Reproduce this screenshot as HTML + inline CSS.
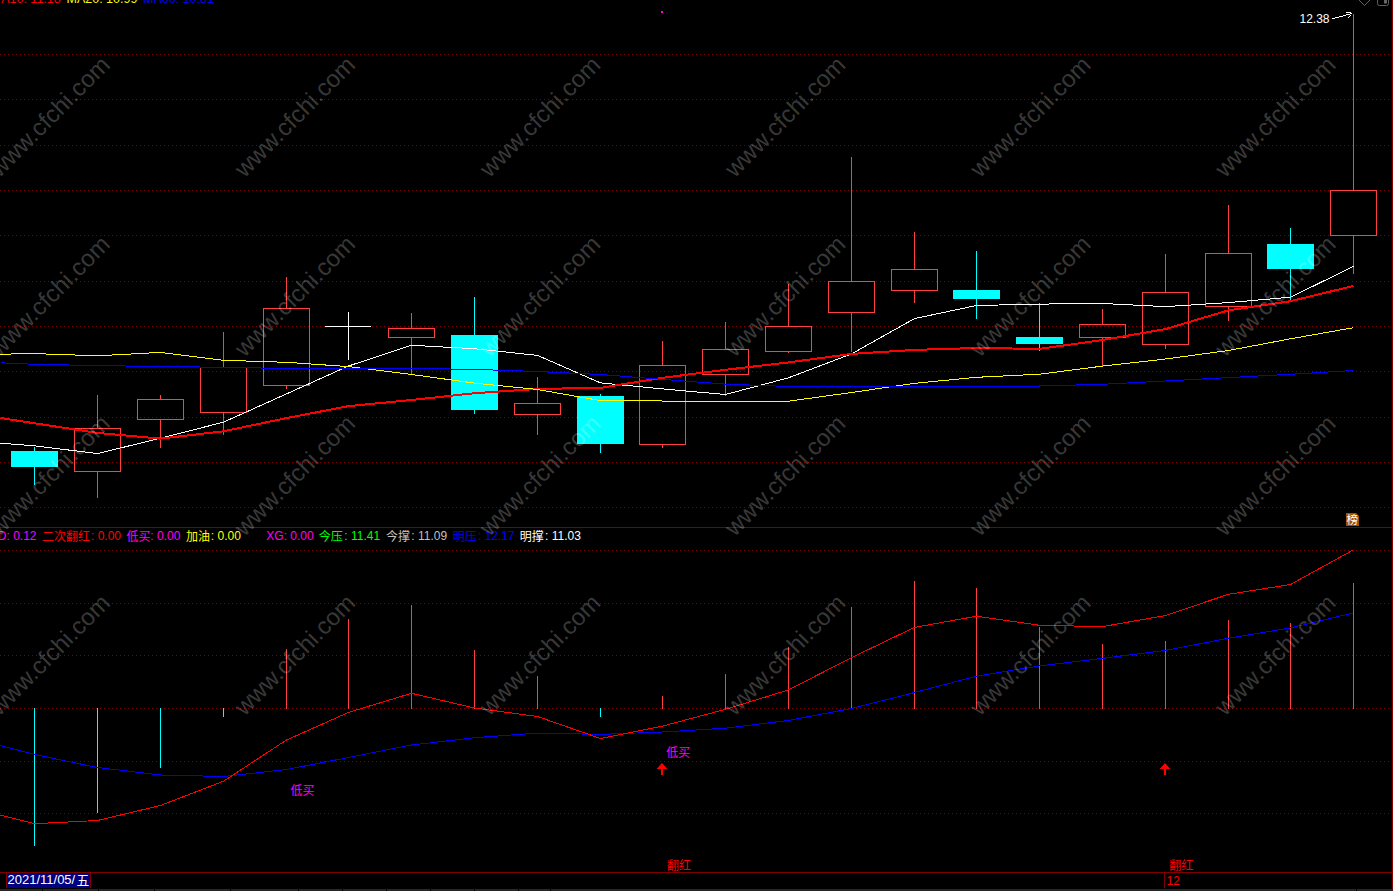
<!DOCTYPE html><html><head><meta charset="utf-8"><style>
html,body{margin:0;padding:0;background:#000;overflow:hidden}
body{width:1393px;height:891px;position:relative;font-family:"Liberation Sans",sans-serif}
svg{position:absolute;left:0;top:0}
.t{position:absolute;white-space:nowrap;font-size:12px;line-height:14px}
</style></head><body>
<svg width="1393" height="891" viewBox="0 0 1393 891">
<rect width="1393" height="891" fill="#000"/>
<g shape-rendering="crispEdges" stroke="#800000" stroke-width="1" stroke-dasharray="1 3">
<line x1="0" y1="54.5" x2="1389" y2="54.5"/>
<line x1="0" y1="99.5" x2="1389" y2="99.5"/>
<line x1="0" y1="145.5" x2="1389" y2="145.5"/>
<line x1="0" y1="190.5" x2="1389" y2="190.5"/>
<line x1="0" y1="235.5" x2="1389" y2="235.5"/>
<line x1="0" y1="281.5" x2="1389" y2="281.5"/>
<line x1="0" y1="326.5" x2="1389" y2="326.5"/>
<line x1="0" y1="371.5" x2="1389" y2="371.5"/>
<line x1="0" y1="417.5" x2="1389" y2="417.5"/>
<line x1="0" y1="462.5" x2="1389" y2="462.5"/>
<line x1="0" y1="507.5" x2="1389" y2="507.5"/>
<line x1="0" y1="550.5" x2="1389" y2="550.5"/>
<line x1="0" y1="603.5" x2="1389" y2="603.5"/>
<line x1="0" y1="655.5" x2="1389" y2="655.5"/>
<line x1="0" y1="708.5" x2="1389" y2="708.5"/>
<line x1="0" y1="761.5" x2="1389" y2="761.5"/>
<line x1="0" y1="813.5" x2="1389" y2="813.5"/>
</g>
<g shape-rendering="crispEdges">
<rect x="0" y="527" width="1393" height="1" fill="#800000"/>
<rect x="0" y="872" width="1393" height="1" fill="#800000"/>
<rect x="1392" y="0" width="1" height="891" fill="#8c0000"/>
<rect x="11" y="451" width="47" height="16" fill="#00ffff"/>
<rect x="34" y="447" width="1" height="38" fill="#00ffff"/>
<rect x="74.5" y="428.5" width="46" height="43" fill="none" stroke="#ff4040"/>
<rect x="97" y="395" width="1" height="33" fill="#ff4040"/>
<rect x="97" y="472" width="1" height="26" fill="#ff4040"/>
<rect x="137.5" y="399.5" width="46" height="20" fill="none" stroke="#ff4040"/>
<rect x="160" y="395" width="1" height="4" fill="#ff4040"/>
<rect x="160" y="420" width="1" height="28" fill="#ff4040"/>
<rect x="200.5" y="367.5" width="46" height="45" fill="none" stroke="#ff4040"/>
<rect x="223" y="332" width="1" height="35" fill="#ff4040"/>
<rect x="223" y="413" width="1" height="22" fill="#ff4040"/>
<rect x="263.5" y="308.5" width="46" height="77" fill="none" stroke="#ff4040"/>
<rect x="286" y="277" width="1" height="31" fill="#ff4040"/>
<rect x="286" y="386" width="1" height="3" fill="#ff4040"/>
<rect x="325" y="326" width="46" height="1" fill="#fff"/>
<rect x="348" y="312" width="1" height="48" fill="#fff"/>
<rect x="388.5" y="328.5" width="46" height="9" fill="none" stroke="#ff4040"/>
<rect x="411" y="313" width="1" height="15" fill="#ff4040"/>
<rect x="411" y="338" width="1" height="36" fill="#ff4040"/>
<rect x="451" y="335" width="47" height="75" fill="#00ffff"/>
<rect x="474" y="297" width="1" height="117" fill="#00ffff"/>
<rect x="514.5" y="403.5" width="46" height="11" fill="none" stroke="#ff4040"/>
<rect x="537" y="377" width="1" height="26" fill="#ff4040"/>
<rect x="537" y="415" width="1" height="20" fill="#ff4040"/>
<rect x="577" y="396" width="47" height="48" fill="#00ffff"/>
<rect x="600" y="394" width="1" height="59" fill="#00ffff"/>
<rect x="639.5" y="365.5" width="46" height="79" fill="none" stroke="#ff4040"/>
<rect x="662" y="341" width="1" height="24" fill="#ff4040"/>
<rect x="662" y="445" width="1" height="3" fill="#ff4040"/>
<rect x="702.5" y="349.5" width="46" height="25" fill="none" stroke="#ff4040"/>
<rect x="725" y="322" width="1" height="27" fill="#ff4040"/>
<rect x="725" y="375" width="1" height="21" fill="#ff4040"/>
<rect x="765.5" y="326.5" width="46" height="25" fill="none" stroke="#ff4040"/>
<rect x="788" y="284" width="1" height="42" fill="#ff4040"/>
<rect x="788" y="352" width="1" height="1" fill="#ff4040"/>
<rect x="828.5" y="281.5" width="46" height="31" fill="none" stroke="#ff4040"/>
<rect x="851" y="157" width="1" height="124" fill="#ff4040"/>
<rect x="851" y="313" width="1" height="39" fill="#ff4040"/>
<rect x="891.5" y="269.5" width="46" height="21" fill="none" stroke="#ff4040"/>
<rect x="914" y="232" width="1" height="37" fill="#ff4040"/>
<rect x="914" y="291" width="1" height="12" fill="#ff4040"/>
<rect x="953" y="290" width="47" height="9" fill="#00ffff"/>
<rect x="976" y="251" width="1" height="68" fill="#00ffff"/>
<rect x="1016" y="337" width="47" height="7" fill="#00ffff"/>
<rect x="1039" y="303" width="1" height="48" fill="#00ffff"/>
<rect x="1079.5" y="324.5" width="46" height="13" fill="none" stroke="#ff4040"/>
<rect x="1102" y="309" width="1" height="15" fill="#ff4040"/>
<rect x="1102" y="338" width="1" height="28" fill="#ff4040"/>
<rect x="1142.5" y="292.5" width="46" height="52" fill="none" stroke="#ff4040"/>
<rect x="1165" y="254" width="1" height="38" fill="#ff4040"/>
<rect x="1165" y="345" width="1" height="4" fill="#ff4040"/>
<rect x="1205.5" y="253.5" width="46" height="53" fill="none" stroke="#ff4040"/>
<rect x="1228" y="205" width="1" height="48" fill="#ff4040"/>
<rect x="1228" y="307" width="1" height="14" fill="#ff4040"/>
<rect x="1267" y="244" width="47" height="25" fill="#00ffff"/>
<rect x="1290" y="228" width="1" height="73" fill="#00ffff"/>
<rect x="1330.5" y="190.5" width="46" height="45" fill="none" stroke="#ff4040"/>
<rect x="1353" y="14" width="1" height="176" fill="#ff4040"/>
<rect x="1353" y="236" width="1" height="38" fill="#ff4040"/>
<rect x="34" y="708" width="1" height="138" fill="#00ffff"/>
<rect x="97" y="708" width="1" height="105" fill="#00ffff"/>
<rect x="160" y="708" width="1" height="60" fill="#00ffff"/>
<rect x="223" y="708" width="1" height="9" fill="#00ffff"/>
<rect x="286" y="649" width="1" height="60" fill="#ff4040"/>
<rect x="348" y="619" width="1" height="90" fill="#ff4040"/>
<rect x="411" y="605" width="1" height="104" fill="#ff4040"/>
<rect x="474" y="650" width="1" height="59" fill="#ff4040"/>
<rect x="537" y="676" width="1" height="33" fill="#ff4040"/>
<rect x="600" y="708" width="1" height="9" fill="#00ffff"/>
<rect x="662" y="696" width="1" height="13" fill="#ff4040"/>
<rect x="725" y="674" width="1" height="35" fill="#ff4040"/>
<rect x="788" y="647" width="1" height="62" fill="#ff4040"/>
<rect x="851" y="607" width="1" height="102" fill="#ff4040"/>
<rect x="914" y="581" width="1" height="128" fill="#ff4040"/>
<rect x="976" y="588" width="1" height="121" fill="#ff4040"/>
<rect x="1039" y="627" width="1" height="82" fill="#ff4040"/>
<rect x="1102" y="644" width="1" height="65" fill="#ff4040"/>
<rect x="1165" y="641" width="1" height="68" fill="#ff4040"/>
<rect x="1228" y="620" width="1" height="89" fill="#ff4040"/>
<rect x="1290" y="623" width="1" height="86" fill="#ff4040"/>
<rect x="1353" y="583" width="1" height="126" fill="#ff4040"/>
<polyline points="0.5,443.2 34.5,445.8 97.5,453.6 160.5,438.2 223.5,422.2 286.5,393.9 348.5,366 411.5,345.3 474.5,348.7 537.5,355.4 600.5,382.9 662.5,388.9 725.5,394.5 788.5,377.8 851.5,353.9 914.5,318.6 976.5,305.5 1039.5,304.1 1102.5,303.5 1165.5,306.6 1228.5,302.6 1290.5,297.2 1353.5,266.4" fill="none" stroke="#ffffff" stroke-width="1" stroke-linejoin="round"/>
<polyline points="0.5,418 34.5,423.3 97.5,432.9 160.5,438.6 223.5,431.3 286.5,418.1 348.5,406.1 411.5,400 474.5,393.2 537.5,388.9 600.5,387.9 662.5,377.8 725.5,369.8 788.5,362.4 851.5,353.9 914.5,349.9 976.5,348 1039.5,348.9 1102.5,340 1165.5,329.1 1228.5,310.3 1290.5,301.2 1353.5,285.9" fill="none" stroke="#ff0000" stroke-width="2" stroke-linejoin="round"/>
<polyline points="0.5,354.2 34.5,353.6 97.5,355.8 160.5,352.4 223.5,360.3 286.5,362.3 348.5,366.6 411.5,374.5 474.5,383.1 537.5,389.5 600.5,400.6 662.5,401 725.5,401.2 788.5,401.2 851.5,392.5 914.5,383.3 976.5,377.3 1039.5,374.2 1102.5,366.1 1165.5,359 1228.5,350.5 1290.5,338.8 1353.5,327.7" fill="none" stroke="#ffff00" stroke-width="1" stroke-linejoin="round"/>
<polyline points="0.5,362.8 34.5,364.3 97.5,365.6 160.5,366.5 223.5,367.3 286.5,368.5 348.5,368.5 411.5,368.4 474.5,369.4 537.5,371.5 600.5,374.5 662.5,379.4 725.5,384.1 788.5,386.5 851.5,386.3 914.5,386.1 976.5,386.1 1039.5,386 1102.5,384.3 1165.5,381 1228.5,377.6 1290.5,374.3 1353.5,370.5" fill="none" stroke="#0000ff" stroke-width="1" stroke-linejoin="round"/>
<polyline points="0.5,745.5 34.5,754.5 97.5,767.5 160.5,775 223.5,776.5 286.5,769.5 348.5,757.5 411.5,745 474.5,737.7 537.5,733.1 600.5,734.4 662.5,732 725.5,728.2 788.5,720.4 851.5,708.5 914.5,692.5 976.5,676.2 1039.5,665.9 1102.5,658.4 1165.5,650.4 1228.5,638.2 1290.5,627.9 1353.5,612.9" fill="none" stroke="#0000ff" stroke-width="1" stroke-linejoin="round"/>
<polyline points="0.5,815 34.5,823.7 97.5,820.5 160.5,805.5 223.5,781.2 286.5,740 348.5,712.4 411.5,693.3 474.5,708 537.5,716.5 600.5,738.5 662.5,726.1 725.5,709.3 788.5,689.9 851.5,657.6 914.5,627.4 976.5,616.2 1039.5,625.3 1102.5,626.6 1165.5,615.5 1228.5,594.3 1290.5,584.5 1353.5,549.8" fill="none" stroke="#ff0000" stroke-width="1" stroke-linejoin="round"/>
<rect x="661" y="11" width="2" height="2" fill="#ff00ff"/>
<path d="M662 763 l5.4 6 h-4.4 v6 h-2 v-6 h-4.4z" fill="#ff0000" shape-rendering="geometricPrecision"/>
<path d="M1165 763 l5.4 6 h-4.4 v6 h-2 v-6 h-4.4z" fill="#ff0000" shape-rendering="geometricPrecision"/>
<rect x="1164" y="873" width="1" height="15" fill="#800000"/>
<rect x="6" y="873" width="85" height="15" fill="#000080"/>
<rect x="6" y="873" width="1" height="15" fill="#800000"/><rect x="90" y="873" width="1" height="15" fill="#800000"/>
<rect x="0" y="889" width="1393" height="2" fill="#262626"/>
<rect x="42" y="889" width="1" height="2" fill="#000"/>
<rect x="98" y="889" width="1" height="2" fill="#000"/>
<rect x="154" y="889" width="1" height="2" fill="#000"/>
<rect x="230" y="889" width="1" height="2" fill="#000"/>
<rect x="298" y="889" width="1" height="2" fill="#000"/>
<rect x="342" y="889" width="1" height="2" fill="#000"/>
<rect x="386" y="889" width="1" height="2" fill="#000"/>
<rect x="430" y="889" width="1" height="2" fill="#000"/>
<rect x="474" y="889" width="1" height="2" fill="#000"/>
<rect x="518" y="889" width="1" height="2" fill="#000"/>
<rect x="550" y="889" width="1" height="2" fill="#000"/>
<rect x="1356" y="889" width="1" height="2" fill="#000"/>
</g>
<g fill="none" stroke="#606060" stroke-width="1"><path d="M1358.5 -0.5 L1364.5 5.5 L1370.5 -0.5"/><rect x="1377.5" y="-4.5" width="11" height="10" rx="2"/><rect x="1384" y="-1" width="3" height="4.5" fill="#666" stroke="none"/></g>
<g stroke="#fff" stroke-width="1" fill="none" shape-rendering="crispEdges"><path d="M1332 18.5 h3 M1335 17.5 h4 M1339 16.5 h4 M1343 15.5 h3 M1346 14.5 h4 M1350 13.5h2 M1346 12.5 h5 M1351 13.5 h1 M1350 15.5h1 M1349 16.5h1 M1348 17.5h1"/></g>
<g font-family="'Liberation Sans','Noto Sans CJK SC',sans-serif" font-size="12">
<text x="42.1" y="541" fill="#ff0000">二次翻红</text>
<text x="126.6" y="541" fill="#ff00ff">低买</text>
<text x="186.1" y="541" fill="#ffff00">加油</text>
<text x="318.8" y="541" fill="#00ff00">今压</text>
<text x="386" y="541" fill="#c0c0c0">今撑</text>
<text x="452.7" y="541" fill="#0000ff">明压</text>
<text x="519.7" y="541" fill="#ffffff">明撑</text>
<text x="290.5" y="794.8" fill="#ff00ff">低买</text>
<text x="666.3" y="757" fill="#ff00ff">低买</text>
<text x="667" y="870.3" fill="#ff0000">翻红</text>
<text x="1169.3" y="870.3" fill="#ff0000">翻红</text>
<text x="76.4" y="884.8" fill="#ffffff" font-size="12.8">五</text>
</g>
<path d="M1346 513 h10 l3 3 v10 h-13z" fill="#a05000"/>
<text x="1346.6" y="524.3" fill="#ffffff" font-size="11.5" font-family="'Liberation Sans','Noto Sans CJK SC',sans-serif">榜</text>
</svg>
<div class="t" style="left:1.2px;top:-7.8px;color:#ff0000;font-size:12.5px">A10: 11.18</div>
<div class="t" style="left:66.5px;top:-7.8px;color:#ffff00;font-size:12.5px">MA20: 10.99</div>
<div class="t" style="left:143px;top:-7.8px;color:#0000ff;font-size:12.5px">MA60: 10.81</div>
<div class="t" style="left:1299.5px;top:11.5px;color:#ffffff;">12.38</div>
<div class="t" style="left:-2.2px;top:529px;color:#ff00ff;">D: 0.12</div>
<div class="t" style="left:91px;top:529px;color:#ff0000;">: 0.00</div>
<div class="t" style="left:150.3px;top:529px;color:#ff00ff;">: 0.00</div>
<div class="t" style="left:210.8px;top:529px;color:#ffff00;">: 0.00</div>
<div class="t" style="left:266.3px;top:529px;color:#ff00ff;">XG: 0.00</div>
<div class="t" style="left:344.3px;top:529px;color:#00ff00;">: 11.41</div>
<div class="t" style="left:411.3px;top:529px;color:#c0c0c0;">: 11.09</div>
<div class="t" style="left:478px;top:529px;color:#0000ff;">: 12.17</div>
<div class="t" style="left:545px;top:529px;color:#ffffff;">: 11.03</div>
<div class="t" style="left:7.5px;top:872.6px;color:#ffffff;font-size:13px">2021/11/05/</div>
<div class="t" style="left:1166.5px;top:874px;color:#ff0000;">12</div>
<svg width="1393" height="891" viewBox="0 0 1393 891" style="pointer-events:none">
<g fill="#ffffff" fill-opacity="0.235" font-family="'Liberation Sans',sans-serif" font-size="24">
<text transform="translate(-0.8 178.5) rotate(-45)">www.cfchi.com</text>
<text transform="translate(244.4 178.5) rotate(-45)">www.cfchi.com</text>
<text transform="translate(489.6 178.5) rotate(-45)">www.cfchi.com</text>
<text transform="translate(734.7 178.5) rotate(-45)">www.cfchi.com</text>
<text transform="translate(979.9 178.5) rotate(-45)">www.cfchi.com</text>
<text transform="translate(1225.0 178.5) rotate(-45)">www.cfchi.com</text>
<text transform="translate(-0.8 357.9) rotate(-45)">www.cfchi.com</text>
<text transform="translate(244.4 357.9) rotate(-45)">www.cfchi.com</text>
<text transform="translate(489.6 357.9) rotate(-45)">www.cfchi.com</text>
<text transform="translate(734.7 357.9) rotate(-45)">www.cfchi.com</text>
<text transform="translate(979.9 357.9) rotate(-45)">www.cfchi.com</text>
<text transform="translate(1225.0 357.9) rotate(-45)">www.cfchi.com</text>
<text transform="translate(-0.8 537.3) rotate(-45)">www.cfchi.com</text>
<text transform="translate(244.4 537.3) rotate(-45)">www.cfchi.com</text>
<text transform="translate(489.6 537.3) rotate(-45)">www.cfchi.com</text>
<text transform="translate(734.7 537.3) rotate(-45)">www.cfchi.com</text>
<text transform="translate(979.9 537.3) rotate(-45)">www.cfchi.com</text>
<text transform="translate(1225.0 537.3) rotate(-45)">www.cfchi.com</text>
<text transform="translate(-0.8 716.7) rotate(-45)">www.cfchi.com</text>
<text transform="translate(244.4 716.7) rotate(-45)">www.cfchi.com</text>
<text transform="translate(489.6 716.7) rotate(-45)">www.cfchi.com</text>
<text transform="translate(734.7 716.7) rotate(-45)">www.cfchi.com</text>
<text transform="translate(979.9 716.7) rotate(-45)">www.cfchi.com</text>
<text transform="translate(1225.0 716.7) rotate(-45)">www.cfchi.com</text>
</g>
</svg>
</body></html>
